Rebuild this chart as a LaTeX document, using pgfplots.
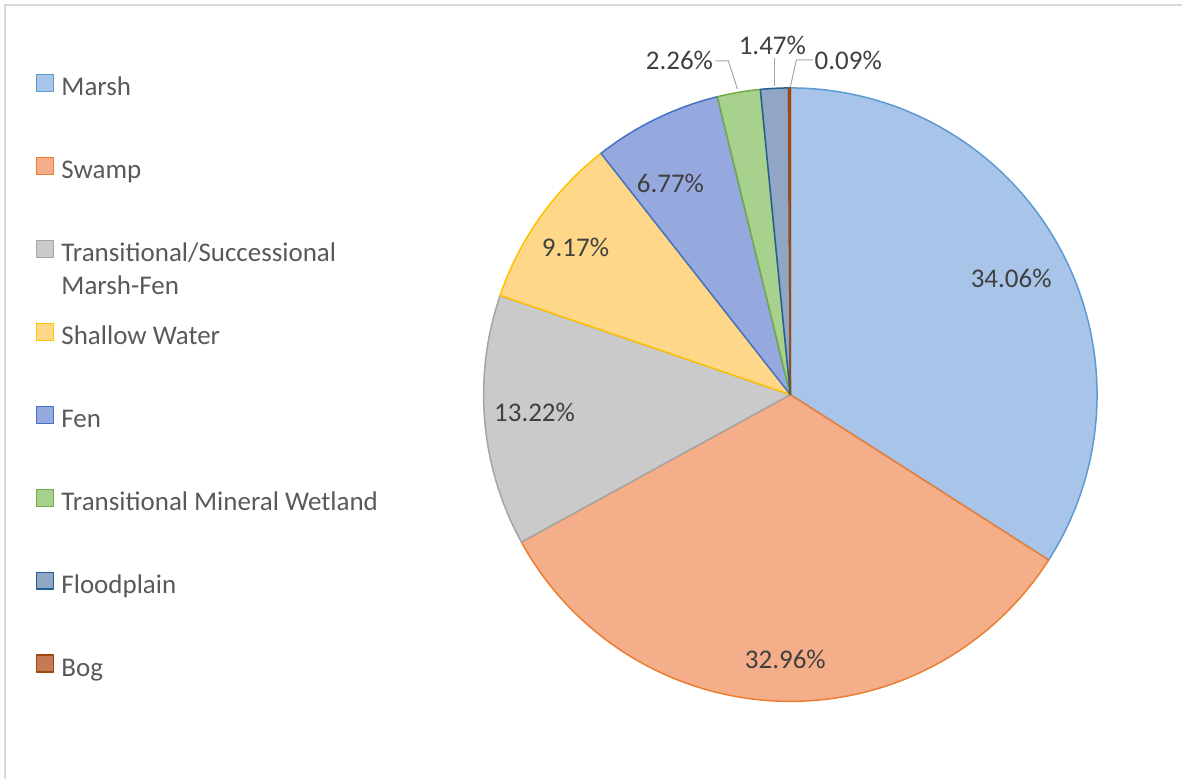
\documentclass[border=0pt]{standalone}
\usepackage{pgfplots}
\pgfplotsset{compat=1.18}
\usepackage{fontspec}
\setmainfont{Carlito}

\definecolor{marshF}{HTML}{A8C4E8}
\definecolor{marshE}{HTML}{5B9BD5}
\definecolor{swampF}{HTML}{F4AE8A}
\definecolor{swampE}{HTML}{ED7D31}
\definecolor{tsF}{HTML}{CACACA}
\definecolor{tsE}{HTML}{A5A5A5}
\definecolor{shF}{HTML}{FFD788}
\definecolor{shE}{HTML}{FFC000}
\definecolor{fenF}{HTML}{95A9DE}
\definecolor{fenE}{HTML}{4472C4}
\definecolor{tmwF}{HTML}{A9D18E}
\definecolor{tmwE}{HTML}{70AD47}
\definecolor{flF}{HTML}{90A6C4}
\definecolor{flE}{HTML}{255E91}
\definecolor{bogF}{HTML}{C47A55}
\definecolor{bogE}{HTML}{9E480E}
\definecolor{legtext}{HTML}{595959}
\definecolor{labtext}{HTML}{404040}
\definecolor{leader}{HTML}{A6A6A6}
\definecolor{frame}{HTML}{D9D9D9}

% #1 fill, #2 edge, #3 cumulative share before this slice (%), #4 share (%)
\newcommand{\pieslice}[4]{%
  \addplot[fill=#1, draw=#2, line width=0.75pt, line join=round,
    domain={90-3.6*(#3+#4)}:{90-3.6*(#3)}, samples=120]
    ({791+307*cos(x)},{385+307*sin(x)}) -- (axis cs:791,385) -- cycle;}

\begin{document}
\begin{tikzpicture}
\begin{axis}[
  hide axis, scale only axis, clip=false,
  width=591.5pt, height=390pt,
  xmin=0, xmax=1183, ymin=0, ymax=780,
  legend cell align=left,
  legend image code/.code={\draw[#1] (0pt,-1pt) rectangle (8.5pt,7.5pt);},
  legend style={at={(axis cs:36,401)}, anchor=west, draw=none, fill=none,
    inner sep=0pt, outer sep=0pt, row sep=26.9pt, column sep=3.5pt,
    font=\fontsize{13.5pt}{16.5pt}\selectfont, text=legtext,
    nodes={inner sep=0pt, text height=10pt, text depth=3.5pt}},
]
\path (axis cs:0,0) rectangle (axis cs:1183,780);
\draw[frame, line width=1pt] (axis cs:5,0) -- (axis cs:5,775) -- (axis cs:1183,775);

\pieslice{marshF}{marshE}{0}{34.06}
\addlegendentry{Marsh}
\pieslice{swampF}{swampE}{34.06}{32.96}
\addlegendentry{Swamp}
\pieslice{tsF}{tsE}{67.02}{13.22}
\addlegendentry{\begin{tabular}[t]{@{}l@{}}Transitional/Successional\\Marsh-Fen\end{tabular}}
\pieslice{shF}{shE}{80.24}{9.17}
\addlegendentry{Shallow Water}
\pieslice{fenF}{fenE}{89.41}{6.77}
\addlegendentry{Fen}
\pieslice{tmwF}{tmwE}{96.18}{2.26}
\addlegendentry{Transitional Mineral Wetland}
\pieslice{flF}{flE}{98.44}{1.47}
\addlegendentry{Floodplain}
\pieslice{bogF}{bogE}{99.91}{0.09}
\addlegendentry{Bog}

\begin{scope}[every node/.style={text=labtext, font=\fontsize{13.5pt}{16pt}\selectfont}]
\node at (axis cs:1012,501) {34.06\%};
\node at (axis cs:786,120) {32.96\%};
\node at (axis cs:535,367) {13.22\%};
\node at (axis cs:576,532) {9.17\%};
\node at (axis cs:671,596) {6.77\%};
\node at (axis cs:680,720) {2.26\%};
\node at (axis cs:773,735) {1.47\%};
\node at (axis cs:849,720) {0.09\%};
\end{scope}
\draw[leader, line width=0.5pt] (axis cs:716,719) -- (axis cs:729,719) -- (axis cs:738,691);
\draw[leader, line width=0.5pt] (axis cs:775,722) -- (axis cs:775,694);
\draw[leader, line width=0.5pt] (axis cs:814,720) -- (axis cs:797,720) -- (axis cs:791,693);
\end{axis}
\end{tikzpicture}
\end{document}
